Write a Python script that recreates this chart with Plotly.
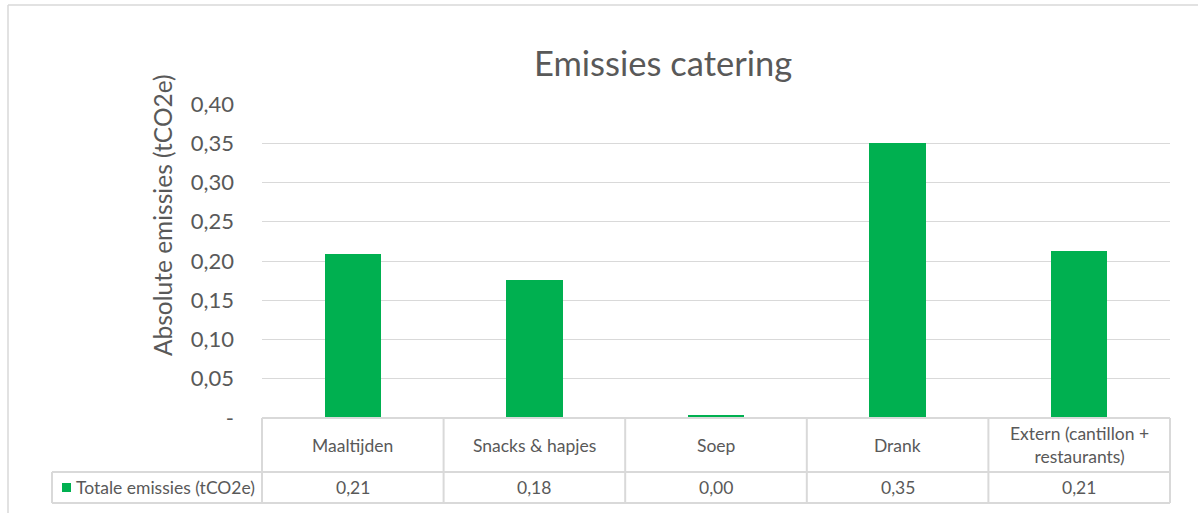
import plotly.graph_objects as go

categories = ["Maaltijden", "Snacks & hapjes", "Soep", "Drank", "Extern (cantillon +<br>restaurants)"]
values = [0.209, 0.176, 0.004, 0.350, 0.213]
series_name = "Totale emissies (tCO2e)"
tick_vals = [0, 0.05, 0.10, 0.15, 0.20, 0.25, 0.30, 0.35, 0.40]
tick_text = ["-", "0,05", "0,10", "0,15", "0,20", "0,25", "0,30", "0,35", "0,40"]
title = "Emissies catering"
y_title = "Absolute emissies (tCO2e)"

W, H = 1198, 513
L, R, T, B = 262, 28, 104, 95
PW, PH = W - L - R, H - T - B
FONT = "Lato"
TXT = "#595959"
GRID = "#d9d9d9"
GREEN = "#00b050"

def px(x):
    return (x - L) / PW

def py(y):
    return (H - B - y) / PH

fig = go.Figure()
xs = list(range(len(categories)))
fig.add_trace(go.Bar(x=xs, y=values, width=0.31, marker=dict(color=GREEN, line=dict(width=0)),
                     name=series_name, showlegend=False, hoverinfo="skip"))

n = len(categories)
shapes = []
# outer chart border (right and bottom edges lie outside the visible frame)
shapes.append(dict(type="line", xref="paper", yref="paper", x0=px(8), x1=px(1210), y0=py(5), y1=py(5),
                   line=dict(color=GRID, width=1.5), layer="below"))
shapes.append(dict(type="line", xref="paper", yref="paper", x0=px(8), x1=px(8), y0=py(5), y1=py(530),
                   line=dict(color=GRID, width=1.5), layer="below"))
row1 = py(472)
row2 = py(503)
# vertical lines at category boundaries
for i in range(n + 1):
    xb = i / n
    shapes.append(dict(type="line", xref="paper", yref="paper", x0=xb, x1=xb, y0=0, y1=row2,
                       line=dict(color=GRID, width=2)))
# left vertical line of series row
shapes.append(dict(type="line", xref="paper", yref="paper", x0=px(52), x1=px(52), y0=row1, y1=row2,
                   line=dict(color=GRID, width=2)))
# horizontal lines
shapes.append(dict(type="line", xref="paper", yref="paper", x0=0, x1=1, y0=0, y1=0,
                   line=dict(color=GRID, width=2)))
shapes.append(dict(type="line", xref="paper", yref="paper", x0=px(52), x1=1, y0=row1, y1=row1,
                   line=dict(color=GRID, width=2)))
shapes.append(dict(type="line", xref="paper", yref="paper", x0=px(52), x1=1, y0=row2, y1=row2,
                   line=dict(color=GRID, width=2)))
# legend key
shapes.append(dict(type="rect", xref="paper", yref="paper", x0=px(62), x1=px(71), y0=py(483), y1=py(492),
                   line=dict(width=0), fillcolor=GREEN))

TS = 17.5
annotations = []
for i, c in enumerate(categories):
    annotations.append(dict(x=i, xref="x", y=(0 + row1) / 2, yref="paper", text=c, showarrow=False,
                            font=dict(family=FONT, size=TS, color=TXT), xanchor="center", yanchor="middle"))
    v = f"{values[i]:.2f}".replace(".", ",")
    annotations.append(dict(x=i, xref="x", y=(row1 + row2) / 2, yref="paper", text=v, showarrow=False,
                            font=dict(family=FONT, size=TS, color=TXT), xanchor="center", yanchor="middle"))
annotations.append(dict(x=px(74), xref="paper", y=(row1 + row2) / 2, yref="paper", text=series_name,
                        showarrow=False, font=dict(family=FONT, size=TS, color=TXT), xanchor="left", yanchor="middle"))
annotations.append(dict(x=px(162), xref="paper", y=py(215), yref="paper", text=y_title, textangle=-90,
                        showarrow=False, font=dict(family=FONT, size=24.5, color=TXT), xanchor="center", yanchor="middle"))
annotations.append(dict(x=px(663), xref="paper", y=py(62), yref="paper", text=title,
                        showarrow=False, font=dict(family=FONT, size=34.5, color=TXT), xanchor="center", yanchor="middle"))

fig.update_layout(
    width=W, height=H,
    margin=dict(l=L, r=R, t=T, b=B),
    paper_bgcolor="white", plot_bgcolor="white",
    shapes=shapes, annotations=annotations,
    bargap=0,
    xaxis=dict(range=[-0.5, n - 0.5], showticklabels=False, showgrid=False, zeroline=False,
               showline=False, ticks="", fixedrange=True),
    yaxis=dict(range=[0, 0.4], tickvals=tick_vals, ticktext=tick_text, showgrid=True, gridcolor=GRID,
               gridwidth=1, zeroline=False, showline=False, ticks="", ticklabelstandoff=27,
               tickfont=dict(family=FONT, size=22, color=TXT), fixedrange=True),
    font=dict(family=FONT, color=TXT),
)

fig.write_html("out.html")
